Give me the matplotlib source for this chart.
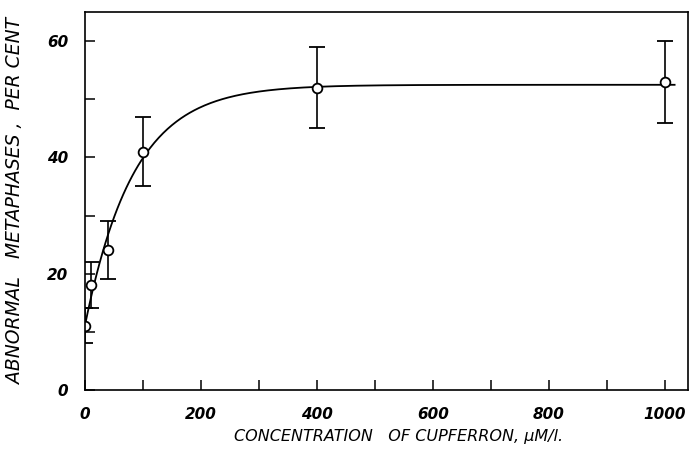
import matplotlib.pyplot as plt
import numpy as np

conc = [0, 10, 40, 100, 400, 1000]
abnormal = [11, 18, 24, 41, 52, 53]
err = [3, 4, 5, 6, 7, 7]

# saturating curve drawn in the original: y0 + (ymax - y0) * (1 - exp(-x / k))
y0, ymax, k = 11.0, 52.5, 84.0
curve_end = 1017

fig = plt.figure(figsize=(6.9, 4.68), dpi=100)
ax = fig.add_axes([0.123, 0.167, 0.874, 0.807])

xc = np.linspace(0, curve_end, 400)
ax.plot(xc, y0 + (ymax - y0) * (1 - np.exp(-xc / k)), color="black", lw=1.3)

ax.errorbar(conc, abnormal, yerr=err, fmt="o", color="black", mfc="white",
            mec="black", ms=7, mew=1.3, capsize=6, elinewidth=1.2, capthick=1.2)

ax.set_xlim(0, 1040)
ax.set_ylim(0, 65)
ax.set_xticks([0, 200, 400, 600, 800, 1000])
ax.set_xticks([100, 300, 500, 700, 900], minor=True)
ax.set_yticks([0, 20, 40, 60])
ax.set_yticks([10, 30, 50], minor=True)
ax.tick_params(which="both", direction="in", length=7, width=1.1, pad=12)
for lab in ax.get_xticklabels() + ax.get_yticklabels():
    lab.set_fontstyle("italic")
    lab.set_fontsize(11)
    lab.set_fontweight("bold")
for s in ax.spines.values():
    s.set_linewidth(1.2)

ax.set_xlabel("CONCENTRATION   OF CUPFERRON, \u03bcM/l.", fontsize=11.5,
              style="italic")
ax.xaxis.set_label_coords(0.52, -0.105)
ax.set_ylabel("ABNORMAL   METAPHASES ,  PER CENT", fontsize=13.5,
              style="italic")
ax.yaxis.set_label_coords(-0.1, 0.5)

plt.savefig("out.png")
